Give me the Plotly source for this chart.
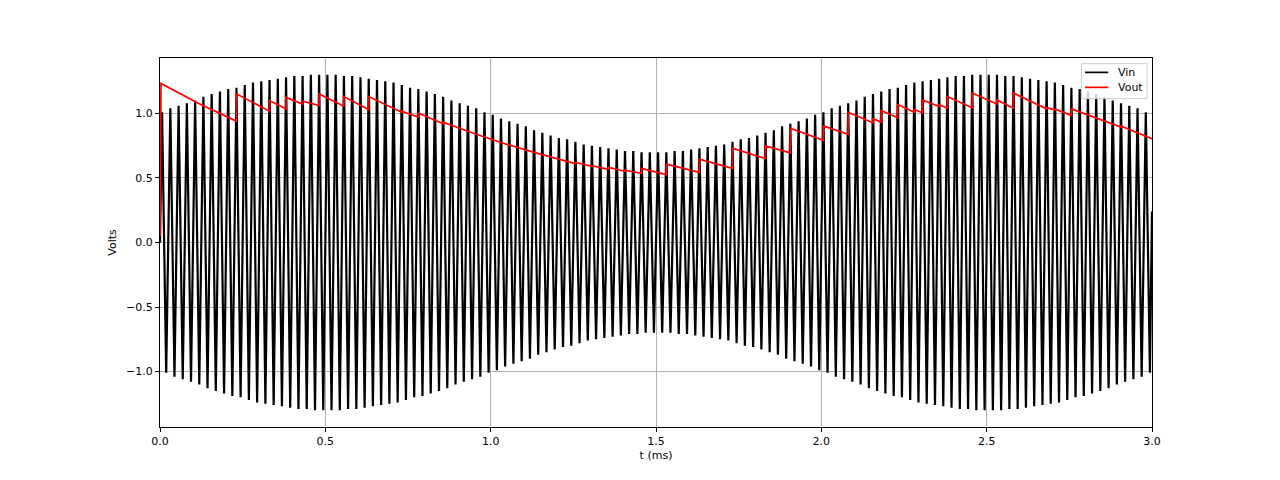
import numpy as np
import plotly.graph_objects as go

# ---- data ----
carrier_period_ms = 0.025          # 40 kHz carrier (120 cycles in 3 ms)
# peak amplitude of each carrier cycle (Vin), read from the envelope
vin_amplitude = [
    1.01, 1.04, 1.06, 1.08, 1.10, 1.13, 1.15, 1.17, 1.19, 1.20,
    1.22, 1.24, 1.25, 1.26, 1.27, 1.28, 1.29, 1.29, 1.30, 1.30,
    1.30, 1.30, 1.29, 1.29, 1.28, 1.27, 1.26, 1.25, 1.24, 1.22,
    1.20, 1.19, 1.17, 1.15, 1.13, 1.10, 1.08, 1.06, 1.04, 1.01,
    0.99, 0.96, 0.94, 0.92, 0.90, 0.87, 0.85, 0.83, 0.81, 0.80,
    0.78, 0.76, 0.75, 0.74, 0.73, 0.72, 0.71, 0.71, 0.70, 0.70,
    0.70, 0.70, 0.71, 0.71, 0.72, 0.73, 0.74, 0.75, 0.76, 0.78,
    0.80, 0.81, 0.83, 0.85, 0.87, 0.90, 0.92, 0.94, 0.96, 0.99,
    1.01, 1.04, 1.06, 1.08, 1.10, 1.13, 1.15, 1.17, 1.19, 1.20,
    1.22, 1.24, 1.25, 1.26, 1.27, 1.28, 1.29, 1.29, 1.30, 1.30,
    1.30, 1.30, 1.29, 1.29, 1.28, 1.27, 1.26, 1.25, 1.24, 1.22,
    1.20, 1.19, 1.17, 1.15, 1.13, 1.10, 1.08, 1.06, 1.04, 1.01,
]
vin_start = 0.0
vin_end = 0.24

# Vout (detector output) vertices
vout_t = [0.000, 0.003, 0.117, 0.231, 0.231, 0.331, 0.331, 0.381, 0.381, 0.431,
          0.431, 0.481, 0.481, 0.556, 0.556, 0.631, 0.631, 0.731, 0.731, 0.781,
          0.781, 0.856, 0.856, 0.950, 1.050, 1.150, 1.256, 1.256, 1.306, 1.306,
          1.356, 1.356, 1.406, 1.406, 1.456, 1.456, 1.531, 1.531, 1.631, 1.631,
          1.731, 1.731, 1.831, 1.831, 1.906, 1.906, 2.006, 2.006, 2.081, 2.081,
          2.156, 2.156, 2.181, 2.181, 2.231, 2.231, 2.281, 2.281, 2.306, 2.306,
          2.356, 2.356, 2.381, 2.381, 2.456, 2.456, 2.531, 2.531, 2.581, 2.581,
          2.681, 2.681, 2.706, 2.706, 2.756, 2.756, 2.906, 2.906, 3.000]
vout_v = [0.05, 1.233, 1.078, 0.941, 1.152, 1.018, 1.100, 1.036, 1.125, 1.074,
          1.095, 1.062, 1.152, 1.056, 1.131, 1.031, 1.131, 1.010, 1.018, 0.972,
          1.003, 0.921, 0.933, 0.845, 0.760, 0.685, 0.612, 0.622, 0.590, 0.595,
          0.567, 0.582, 0.552, 0.560, 0.536, 0.575, 0.526, 0.608, 0.544, 0.646,
          0.575, 0.731, 0.651, 0.749, 0.695, 0.885, 0.792, 0.903, 0.838, 1.010,
          0.928, 0.959, 0.933, 1.023, 0.967, 1.069, 1.010, 1.031, 1.005, 1.105,
          1.054, 1.069, 1.041, 1.131, 1.044, 1.159, 1.074, 1.105, 1.041, 1.159,
          1.036, 1.045, 1.028, 1.035, 0.985, 1.036, 0.895, 0.903, 0.805]

series_names = ["Vin", "Vout"]
series_colors = ["black", "#ff0000"]

x_ticks = [0.0, 0.5, 1.0, 1.5, 2.0, 2.5, 3.0]
x_ticklabels = ["0.0", "0.5", "1.0", "1.5", "2.0", "2.5", "3.0"]
y_ticks = [-1.0, -0.5, 0.0, 0.5, 1.0]
y_ticklabels = ["\u22121.0", "\u22120.5", "0.0", "0.5", "1.0"]

# ---- build Vin polyline through its peaks and troughs ----
amp = np.array(vin_amplitude)
k = np.arange(len(amp))
peak_t = (k + 0.25) * carrier_period_ms
trough_t = (k + 0.75) * carrier_period_ms
vin_t = np.concatenate([[0.0], np.column_stack([peak_t, trough_t]).ravel(), [3.0]])
vin_v = np.concatenate([[vin_start], np.column_stack([amp, -amp]).ravel(), [vin_end]])

FONT = "DejaVu Sans"
fig = go.Figure()
fig.add_trace(go.Scatter(x=vin_t, y=vin_v, mode="lines", name=series_names[0],
                         line=dict(color=series_colors[0], width=2.2), showlegend=False))
fig.add_trace(go.Scatter(x=vout_t, y=vout_v, mode="lines", name=series_names[1],
                         line=dict(color=series_colors[1], width=1.7), showlegend=False))

axis_common = dict(showline=True, mirror=True, linecolor="black", linewidth=1,
                   ticks="outside", ticklen=4, tickwidth=1, tickcolor="black",
                   showgrid=True, gridcolor="#b0b0b0", gridwidth=1, zeroline=False,
                   tickfont=dict(family=FONT, size=11, color="black"))
fig.update_xaxes(range=[0, 3.0], tickvals=x_ticks, ticktext=x_ticklabels,
                 title=dict(text="t (ms)", font=dict(family=FONT, size=11, color="black"),
                            standoff=4),
                 **axis_common)
fig.update_yaxes(range=[-1.43, 1.43], tickvals=y_ticks, ticktext=y_ticklabels,
                 title=dict(text="Volts", font=dict(family=FONT, size=11, color="black"),
                            standoff=7),
                 **axis_common)

# ---- matplotlib-style legend drawn in paper coordinates ----
box = dict(x0=0.9289, x1=0.9950, y0=0.8899, y1=0.9846)
shapes = [dict(type="rect", xref="paper", yref="paper", layer="above",
               fillcolor="rgba(255,255,255,0.8)", line=dict(color="#cccccc", width=1),
               **box)]
annotations = []
legend_rows_y = [0.9610, 0.9205]
for name, color, yy in zip(series_names, series_colors, legend_rows_y):
    shapes.append(dict(type="line", xref="paper", yref="paper", layer="above",
                       x0=0.9325, x1=0.9559, y0=yy, y1=yy,
                       line=dict(color=color, width=1.7)))
    annotations.append(dict(xref="paper", yref="paper", x=0.9640, y=yy,
                            xanchor="left", yanchor="middle", showarrow=False,
                            text=name, font=dict(family=FONT, size=11, color="black")))

fig.update_layout(
    width=1280, height=480, autosize=False,
    margin=dict(l=152, r=136, t=50, b=61),
    paper_bgcolor="white", plot_bgcolor="white",
    font=dict(family=FONT, size=11, color="black"),
    showlegend=False,
    shapes=shapes, annotations=annotations,
)

fig.write_html("out.html")
